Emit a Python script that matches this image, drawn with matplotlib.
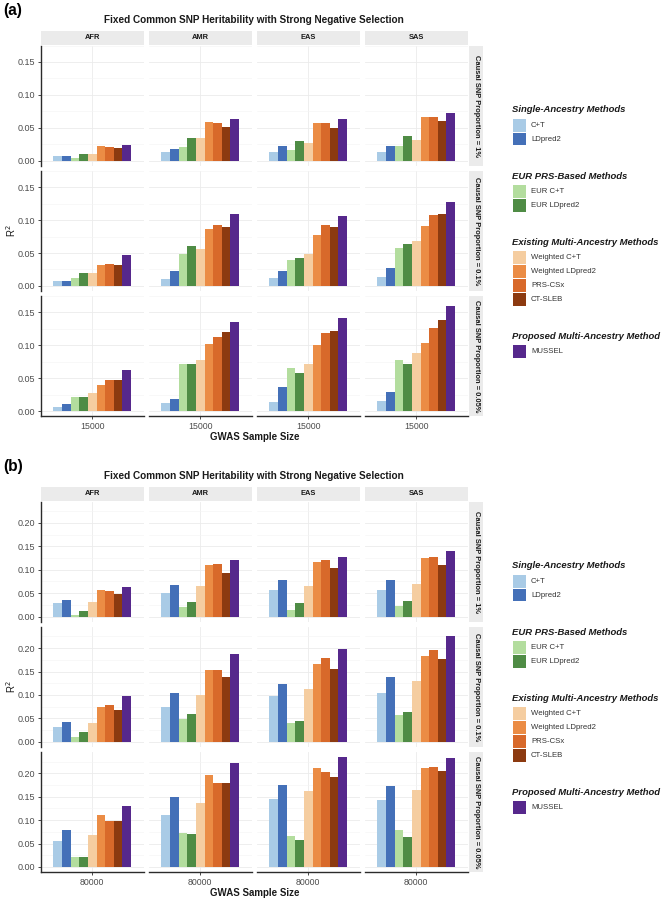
import numpy as np
import matplotlib.pyplot as plt
from matplotlib.patches import Rectangle

plt.rcParams['font.family'] = ['Liberation Sans', 'DejaVu Sans']

W, H = 666, 899

methods = ["C+T", "LDpred2", "EUR C+T", "EUR LDpred2", "Weighted C+T",
           "Weighted LDpred2", "PRS-CSx", "CT-SLEB", "MUSSEL"]
colors = ["#A9CBE6", "#4470B8", "#B3DD9E", "#4F8C45", "#F5CDA0",
          "#EB8C45", "#D8692A", "#8C3A10", "#56288C"]
ancestries = ["AFR", "AMR", "EAS", "SAS"]
proportions = ["1%", "0.1%", "0.05%"]

legend_groups = ["Single-Ancestry Methods", "EUR PRS-Based Methods",
                 "Existing Multi-Ancestry Methods", "Proposed Multi-Ancestry Method"]
legend_members = [[0, 1], [2, 3], [4, 5, 6, 7], [8]]

# panel (a): GWAS sample size 15000, rows = causal proportion, cols = ancestry
a_causal_1 = [
    [0.007, 0.007, 0.004, 0.011, 0.011, 0.022, 0.021, 0.019, 0.024],
    [0.014, 0.018, 0.021, 0.034, 0.034, 0.059, 0.058, 0.051, 0.063],
    [0.014, 0.022, 0.016, 0.030, 0.027, 0.058, 0.057, 0.050, 0.064],
    [0.014, 0.022, 0.023, 0.037, 0.032, 0.066, 0.067, 0.060, 0.072],
]
a_causal_01 = [
    [0.007, 0.008, 0.012, 0.020, 0.019, 0.032, 0.034, 0.032, 0.047],
    [0.011, 0.023, 0.049, 0.061, 0.056, 0.087, 0.092, 0.090, 0.110],
    [0.012, 0.023, 0.040, 0.043, 0.048, 0.078, 0.093, 0.090, 0.106],
    [0.014, 0.027, 0.058, 0.063, 0.068, 0.091, 0.108, 0.110, 0.127],
]
a_causal_005 = [
    [0.006, 0.011, 0.022, 0.021, 0.027, 0.040, 0.048, 0.047, 0.062],
    [0.013, 0.018, 0.072, 0.071, 0.078, 0.102, 0.113, 0.120, 0.135],
    [0.014, 0.037, 0.065, 0.058, 0.072, 0.100, 0.118, 0.122, 0.141],
    [0.015, 0.029, 0.078, 0.072, 0.088, 0.104, 0.127, 0.139, 0.159],
]

# panel (b): GWAS sample size 80000
b_causal_1 = [
    [0.029, 0.035, 0.003, 0.011, 0.032, 0.056, 0.055, 0.048, 0.063],
    [0.051, 0.068, 0.020, 0.031, 0.066, 0.109, 0.112, 0.092, 0.121],
    [0.056, 0.078, 0.014, 0.029, 0.066, 0.117, 0.121, 0.104, 0.127],
    [0.056, 0.079, 0.022, 0.034, 0.070, 0.125, 0.127, 0.109, 0.140],
]
b_causal_01 = [
    [0.032, 0.042, 0.011, 0.020, 0.041, 0.075, 0.079, 0.068, 0.097],
    [0.075, 0.105, 0.049, 0.060, 0.100, 0.153, 0.154, 0.139, 0.188],
    [0.097, 0.124, 0.039, 0.045, 0.113, 0.166, 0.178, 0.155, 0.197],
    [0.104, 0.139, 0.057, 0.063, 0.129, 0.183, 0.195, 0.176, 0.225],
]
b_causal_005 = [
    [0.056, 0.079, 0.022, 0.022, 0.069, 0.110, 0.099, 0.098, 0.131],
    [0.110, 0.150, 0.072, 0.070, 0.137, 0.196, 0.180, 0.180, 0.223],
    [0.146, 0.174, 0.065, 0.058, 0.163, 0.211, 0.203, 0.192, 0.234],
    [0.142, 0.172, 0.078, 0.064, 0.164, 0.211, 0.213, 0.205, 0.233],
]

fig = plt.figure(figsize=(W / 100, H / 100), dpi=100)
overlay = fig.add_axes([0, 0, 1, 1])
overlay.set_xlim(0, W)
overlay.set_ylim(H, 0)
overlay.axis("off")


def add_ax(x0, y0, w, h):
    return fig.add_axes([x0 / W, 1 - (y0 + h) / H, w / W, h / H])


col_x = [40.5, 148.5, 256.5, 364.5]
col_w = 103.5
strip_col = "#EBEBEB"
line_col = "#2B2B2B"
tick_col = "#4D4D4D"


def draw_group(top, rows, label, sample_size, yticks):
    row_h = 120.5
    row_gap = 4.7
    row_tops = [top + i * (row_h + row_gap) for i in range(3)]
    ymax = max(max(max(v) for v in r) for r in rows)
    ylim = (-0.05 * ymax, 1.05 * ymax)
    minor = [(yticks[i] + yticks[i + 1]) / 2 for i in range(len(yticks) - 1)]
    minor.append(yticks[-1] + (yticks[1] - yticks[0]) / 2)
    xs = -0.4 + 0.1 * np.arange(len(methods))

    for r, rdata in enumerate(rows):
        for c, vals in enumerate(rdata):
            ax = add_ax(col_x[c], row_tops[r], col_w, row_h)
            ax.bar(xs, vals, width=0.1, color=colors, zorder=3)
            ax.set_xlim(-0.6, 0.6)
            ax.set_ylim(*ylim)
            ax.set_yticks(yticks)
            ax.set_yticks(minor, minor=True)
            ax.set_xticks([0])
            ax.yaxis.grid(True, which="major", color="#EBEBEB", lw=0.6, zorder=0)
            ax.yaxis.grid(True, which="minor", color="#F4F4F4", lw=0.4, zorder=0)
            ax.xaxis.grid(True, which="major", color="#EBEBEB", lw=0.6, zorder=0)
            ax.set_axisbelow(True)
            for s in ax.spines.values():
                s.set_visible(False)
            ax.tick_params(which="minor", left=False, bottom=False)
            if c == 0:
                ax.spines["left"].set_visible(True)
                ax.spines["left"].set_color(line_col)
                ax.spines["left"].set_linewidth(1.0)
                ax.set_yticklabels([f"{t:.2f}" for t in yticks])
                ax.tick_params(axis="y", length=2.5, width=0.6, color=line_col,
                               labelsize=6.5, labelcolor=tick_col, pad=1.5)
            else:
                ax.tick_params(axis="y", left=False, labelleft=False)
            if r == 2:
                ax.spines["bottom"].set_visible(True)
                ax.spines["bottom"].set_color(line_col)
                ax.spines["bottom"].set_linewidth(1.0)
                ax.set_xticklabels([sample_size])
                ax.tick_params(axis="x", length=2.5, width=0.6, color=line_col,
                               labelsize=6.3, labelcolor=tick_col, pad=1.5)
            else:
                ax.tick_params(axis="x", bottom=False, labelbottom=False)

        # right strip
        overlay.add_patch(Rectangle((col_x[3] + col_w + 1.3, row_tops[r]), 13.5, row_h,
                                    facecolor=strip_col, edgecolor="none"))
        overlay.text(col_x[3] + col_w + 1.3 + 6.75, row_tops[r] + row_h / 2,
                     f"Causal SNP Proportion = {proportions[r]}", rotation=-90,
                     ha="center", va="center", fontsize=5.4, fontweight="bold",
                     color="#1A1A1A")

    # top strips
    for c, anc in enumerate(ancestries):
        overlay.add_patch(Rectangle((col_x[c], top - 15), col_w, 14.5,
                                    facecolor=strip_col, edgecolor="none"))
        overlay.text(col_x[c] + col_w / 2, top - 7.6, anc, ha="center", va="center",
                     fontsize=5.4, fontweight="bold", color="#1A1A1A")

    mid_x = (col_x[0] + col_x[3] + col_w) / 2
    overlay.text(mid_x, top - 25.5, "Fixed Common SNP Heritability with Strong Negative Selection",
                 ha="center", va="center", fontsize=7.2, fontweight="bold", color="#1A1A1A")
    overlay.text(3, top - 35, label, ha="left", va="center", fontsize=11.2,
                 fontweight="bold", color="black")
    bottom = row_tops[2] + row_h
    overlay.text(mid_x, bottom + 20.5, "GWAS Sample Size", ha="center", va="center",
                 fontsize=7.0, fontweight="bold", color="#1A1A1A")
    overlay.text(11, row_tops[1] + row_h / 2, "R$^2$", rotation=90, ha="center",
                 va="center", fontsize=7, color="#1A1A1A")

    # legend
    y = top + (row_tops[2] + row_h - top) / 2 - 121
    for gname, members in zip(legend_groups, legend_members):
        overlay.text(512, y, gname, ha="left", va="center", fontsize=6.8,
                     fontweight="bold", style="italic", color="#1A1A1A")
        y += 15.3
        for m in members:
            overlay.add_patch(Rectangle((513, y - 6.3), 12.5, 12.6,
                                        facecolor=colors[m], edgecolor="none"))
            overlay.text(531, y, methods[m], ha="left", va="center", fontsize=5.6,
                         color="#333333")
            y += 13.9
        y += 36.5 - 13.9 + 0.5


draw_group(45.5, [a_causal_1, a_causal_01, a_causal_005], "(a)", "15000",
           [0.00, 0.05, 0.10, 0.15])
draw_group(501.5, [b_causal_1, b_causal_01, b_causal_005], "(b)", "80000",
           [0.00, 0.05, 0.10, 0.15, 0.20])

fig.savefig("out.png", dpi=100, facecolor="white")
